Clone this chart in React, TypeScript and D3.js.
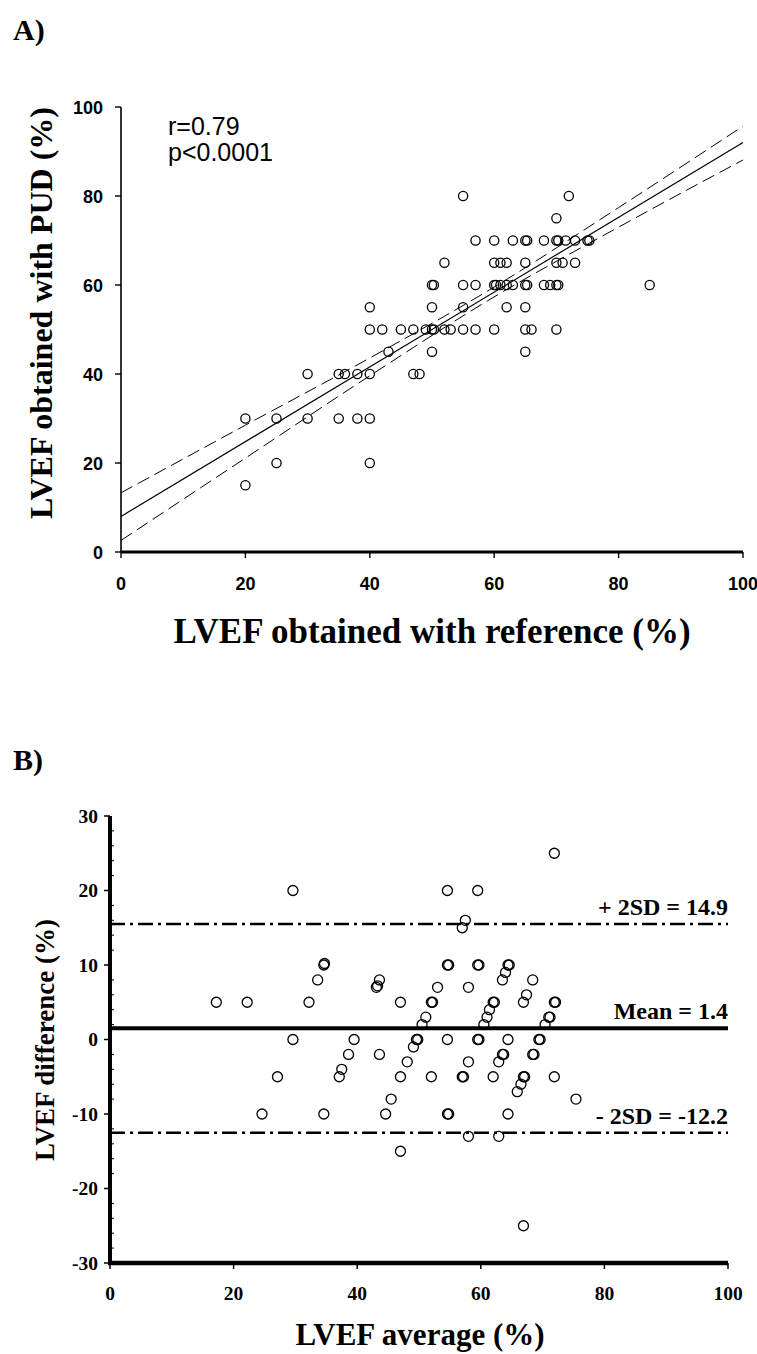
import React from "react";
import * as d3 from "d3";

// ---------- Panel A data ----------
const refValues = [
  55, 72,
  70,
  57, 60, 63, 65, 65.3, 68, 70, 70.3, 71.5, 73, 75, 75.3,
  52, 60, 61, 62, 65, 70, 71, 73,
  50, 50.3, 55, 57, 60, 60.3, 61, 62, 63, 65, 65.3, 68, 69, 70, 70.3, 85,
  40, 50, 55, 62, 65,
  40, 42, 45, 47, 49, 50, 50.3, 52, 53, 55, 57, 60, 65, 66, 70,
  43, 50, 65,
  30, 35, 36, 38, 40, 47, 48,
  20, 25, 30, 35, 38, 40,
  25, 40,
  20,
];
const pudValues = [
  80, 80,
  75,
  70, 70, 70, 70, 70, 70, 70, 70, 70, 70, 70, 70,
  65, 65, 65, 65, 65, 65, 65, 65,
  60, 60, 60, 60, 60, 60, 60, 60, 60, 60, 60, 60, 60, 60, 60, 60,
  55, 55, 55, 55, 55,
  50, 50, 50, 50, 50, 50, 50, 50, 50, 50, 50, 50, 50, 50, 50,
  45, 45, 45,
  40, 40, 40, 40, 40, 40, 40,
  30, 30, 30, 30, 30, 30,
  20, 20,
  15,
];
const fitX = [0, 100];
const fitY = [8, 92];
const bandX = [0, 20, 40, 59, 80, 100];
const bandUpper = [13.3, 28.5, 43.6, 58.7, 77.4, 95.7];
const bandLower = [2.6, 21.1, 39.6, 56.5, 73.0, 88.1];
const axisTicksA = [0, 20, 40, 60, 80, 100];
const statsText = ["r=0.79", "p<0.0001"];

// ---------- Panel B data ----------
const avgValues = [
  17.2, 22.2, 24.6, 27.1, 29.6, 29.6, 32.2, 33.6, 34.6, 34.7, 34.6, 37.1, 37.5, 38.6, 39.5,
  43.1, 43.3, 43.6, 43.6, 44.6, 45.5, 47, 47, 47, 48.1, 49.1, 49.6, 49.8, 50.5, 51.1,
  52, 52.2, 52, 53, 54.6, 54.6, 54.8, 54.6, 54.6, 54.8, 57, 57.5, 57, 57.2, 58, 58, 58,
  59.5, 59.5, 59.7, 59.5, 59.7, 60.5, 61, 61.4, 62, 62.2, 62, 62.9, 62.9, 63.5, 63.5, 63.7,
  64, 64.4, 64.6, 64.4, 64.4, 65.9, 66.5, 66.9, 66.9, 67.1, 66.9, 67.4, 68.4, 68.4, 68.6,
  69.4, 69.6, 70.4, 71, 71.2, 71.9, 71.9, 72.1, 71.9, 75.4,
];
const diffValues = [
  5, 5, -10, -5, 20, 0, 5, 8, 10, 10.2, -10, -5, -4, -2, 0,
  7, 7.2, 8, -2, -10, -8, 5, -5, -15, -3, -1, 0, 0, 2, 3,
  5, 5, -5, 7, 20, 10, 10, 0, -10, -10, 15, 16, -5, -5, 7, -3, -13,
  20, 10, 10, 0, 0, 2, 3, 4, 5, 5, -5, -3, -13, 8, -2, -2,
  9, 10, 10, 0, -10, -7, -6, 5, -5, -5, -25, 6, 8, -2, -2,
  0, 0, 2, 3, 3, 25, 5, 5, -5, -8,
];
const limitValues = [15.5, 1.5, -12.5];
const limitLabels = ["+ 2SD = 14.9", "Mean = 1.4", "- 2SD = -12.2"];
const limitKinds = ["dashdot", "solid", "dashdot"];
const xTicksB = [0, 20, 40, 60, 80, 100];
const yTicksB = [30, 20, 10, 0, -10, -20, -30];
const yMinorB = [28, 26, 24, 22, 18, 16, 14, 12, 8, 6, 4, 2, -2, -4, -6, -8, -12, -14, -16, -18, -22, -24, -26, -28];

const SERIF = "'Liberation Serif', 'Times New Roman', serif";
const SANS = "'Liberation Sans', Arial, sans-serif";

export default function App() {
  const W = 757;
  const H = 1354;

  // Panel A scales
  const xA = d3.scaleLinear().domain([0, 100]).range([121, 743]);
  const yA = d3.scaleLinear().domain([0, 100]).range([552, 107]);
  const lineA = d3.line<number>().x((_, i) => xA(bandX[i])).y((d) => yA(d)).curve(d3.curveMonotoneX);
  const fitLine = d3.line<number>().x((_, i) => xA(fitX[i])).y((d) => yA(d));

  // Panel B scales
  const xB = d3.scaleLinear().domain([0, 100]).range([110, 728]);
  const yB = d3.scaleLinear().domain([-30, 30]).range([1263, 816]);

  return (
    <svg width={W} height={H} viewBox={`0 0 ${W} ${H}`} style={{ position: "absolute", left: 0, top: 0, background: "#fff" }}>
      <rect x={0} y={0} width={W} height={H} fill="#fff" />

      {/* ===== Panel A ===== */}
      <text x={13} y={40} fontFamily={SERIF} fontWeight="bold" fontSize={30}>A)</text>

      {/* confidence band and fit */}
      <path d={lineA(bandUpper) || ""} fill="none" stroke="#000" strokeWidth={1} strokeDasharray="13,6" />
      <path d={lineA(bandLower) || ""} fill="none" stroke="#000" strokeWidth={1} strokeDasharray="13,6" />
      <path d={fitLine(fitY) || ""} fill="none" stroke="#000" strokeWidth={1.2} />

      {/* points */}
      {refValues.map((v, i) => (
        <circle key={"a" + i} cx={xA(v)} cy={yA(pudValues[i])} r={4.6} fill="none" stroke="#000" strokeWidth={1.3} />
      ))}

      {/* axes */}
      <line x1={xA(0)} x2={xA(0)} y1={yA(0)} y2={yA(100)} stroke="#000" strokeWidth={1.6} />
      <line x1={xA(0)} x2={xA(100)} y1={yA(0)} y2={yA(0)} stroke="#000" strokeWidth={3} />
      {axisTicksA.map((t) => (
        <g key={"ya" + t}>
          <line x1={xA(0) - 6} x2={xA(0)} y1={yA(t)} y2={yA(t)} stroke="#000" strokeWidth={1.4} />
          <text x={xA(0) - 18} y={yA(t) + 6.5} textAnchor="end" fontFamily={SANS} fontWeight="bold" fontSize={18}>{t}</text>
        </g>
      ))}
      {axisTicksA.map((t) => (
        <g key={"xa" + t}>
          <line x1={xA(t)} x2={xA(t)} y1={yA(0)} y2={yA(0) + 6} stroke="#000" strokeWidth={1.4} />
          <text x={xA(t)} y={yA(0) + 38} textAnchor="middle" fontFamily={SANS} fontWeight="bold" fontSize={18}>{t}</text>
        </g>
      ))}
      <text x={168} y={135} fontFamily={SANS} fontSize={25}>{statsText[0]}</text>
      <text x={168} y={161} fontFamily={SANS} fontSize={25}>{statsText[1]}</text>
      <text transform={`translate(52, 313) rotate(-90)`} textAnchor="middle" fontFamily={SERIF} fontWeight="bold" fontSize={32}>
        LVEF obtained with PUD (%)
      </text>
      <text x={432} y={643} textAnchor="middle" fontFamily={SERIF} fontWeight="bold" fontSize={35}>
        LVEF obtained with reference (%)
      </text>

      {/* ===== Panel B ===== */}
      <text x={13} y={770} fontFamily={SERIF} fontWeight="bold" fontSize={30}>B)</text>

      {limitValues.map((v, i) => (
        <g key={"lim" + i}>
          <line
            x1={xB(0)}
            x2={xB(100)}
            y1={yB(v)}
            y2={yB(v)}
            stroke="#000"
            strokeWidth={limitKinds[i] === "solid" ? 4 : 2.5}
            strokeDasharray={limitKinds[i] === "solid" ? undefined : "15,5,3,5"}
          />
          <text x={xB(100)} y={yB(v) - 9} textAnchor="end" fontFamily={SERIF} fontWeight="bold" fontSize={24}>
            {limitLabels[i]}
          </text>
        </g>
      ))}

      {avgValues.map((v, i) => (
        <circle key={"b" + i} cx={xB(v)} cy={yB(diffValues[i])} r={5} fill="none" stroke="#000" strokeWidth={1.3} />
      ))}

      <line x1={xB(0)} x2={xB(0)} y1={yB(-30)} y2={yB(30)} stroke="#000" strokeWidth={4} />
      <line x1={xB(0) - 2} x2={xB(100)} y1={yB(-30)} y2={yB(-30)} stroke="#000" strokeWidth={4.5} />
      {yTicksB.map((t) => (
        <g key={"yb" + t}>
          <line x1={xB(0) - 6} x2={xB(0)} y1={yB(t)} y2={yB(t)} stroke="#000" strokeWidth={1.5} />
          <text x={xB(0) - 12} y={yB(t) + 6.5} textAnchor="end" fontFamily={SERIF} fontWeight="bold" fontSize={19.5}>{t}</text>
        </g>
      ))}
      {yMinorB.map((t) => (
        <line key={"ybm" + t} x1={xB(0)} x2={xB(0) + 4} y1={yB(t)} y2={yB(t)} stroke="#000" strokeWidth={1} />
      ))}
      {xTicksB.map((t) => (
        <g key={"xb" + t}>
          <line x1={xB(t)} x2={xB(t)} y1={yB(-30)} y2={yB(-30) + 6} stroke="#000" strokeWidth={1.5} />
          <text x={xB(t)} y={yB(-30) + 37} textAnchor="middle" fontFamily={SERIF} fontWeight="bold" fontSize={19.5}>{t}</text>
        </g>
      ))}
      <text transform={`translate(54, 1040) rotate(-90)`} textAnchor="middle" fontFamily={SERIF} fontWeight="bold" fontSize={27}>
        LVEF difference (%)
      </text>
      <text x={420} y={1345} textAnchor="middle" fontFamily={SERIF} fontWeight="bold" fontSize={31}>
        LVEF average (%)
      </text>
    </svg>
  );
}
